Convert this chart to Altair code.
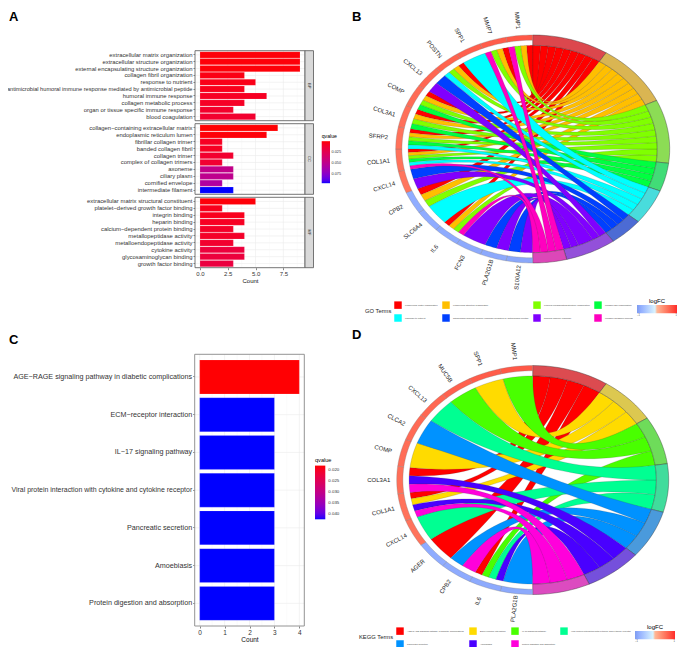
import math
import altair as alt

FONT = "Liberation Sans"

# ---------- panel A data ----------
bp_terms = ["extracellular matrix organization", "extracellular structure organization",
            "external encapsulating structure organization", "collagen fibril organization",
            "response to nutrient", "antimicrobial humoral immune response mediated by antimicrobial peptide",
            "humoral immune response", "collagen metabolic process",
            "organ or tissue specific immune response", "blood coagulation"]
bp_counts = [9, 9, 9, 4, 5, 4, 6, 4, 3, 5]
bp_q = [0.002, 0.002, 0.002, 0.004, 0.005, 0.006, 0.008, 0.009, 0.011, 0.012]
cc_terms = ["collagen\u2212containing extracellular matrix", "endoplasmic reticulum lumen", "fibrillar collagen trimer",
            "banded collagen fibril", "collagen trimer", "complex of collagen trimers", "axoneme", "ciliary plasm",
            "cornified envelope", "intermediate filament"]
cc_counts = [7, 6, 2, 2, 3, 2, 3, 3, 2, 3]
cc_q = [0.001, 0.002, 0.008, 0.008, 0.012, 0.013, 0.048, 0.05, 0.058, 0.0957]
mf_terms = ["extracellular matrix structural constituent", "platelet\u2212derived growth factor binding", "integrin binding",
            "heparin binding", "calcium\u2212dependent protein binding", "metallopeptidase activity",
            "metalloendopeptidase activity", "cytokine activity", "glycosaminoglycan binding", "growth factor binding"]
mf_counts = [5, 2, 4, 4, 3, 4, 3, 4, 4, 3]
mf_q = [0.002, 0.006, 0.006, 0.008, 0.01, 0.01, 0.012, 0.017, 0.017, 0.018]

# ---------- panel C data ----------
kegg_terms = ["AGE\u2212RAGE signaling pathway in diabetic complications", "ECM\u2212receptor interaction",
              "IL\u221217 signaling pathway", "Viral protein interaction with cytokine and cytokine receptor",
              "Pancreatic secretion", "Amoebiasis", "Protein digestion and absorption"]
kegg_counts = [4, 3, 3, 3, 3, 3, 3]
kegg_q = [0.0183, 0.0426, 0.0426, 0.0426, 0.0426, 0.0426, 0.0426]

# ---------- panel B data ----------
go_terms = ["extracellular matrix organization", "extracellular structure organization",
            "external encapsulating structure organization", "collagen fibril organization",
            "response to nutrient", "antimicrobial humoral immune response mediated by antimicrobial peptide",
            "humoral immune response", "collagen metabolic process"]
go_colors = ["#FF0000", "#FFBF00", "#80FF00", "#00FF40", "#00FFFF", "#0040FF", "#8000FF", "#FF00BF"]
go_ring = ["#DC474D", "#DAB552", "#8CDC55", "#41DC77", "#48DCDC", "#4C6BD4", "#9350DA", "#DC47B8"]
go_genes = ["S100A12", "PLA2G1B", "FCN3", "IL6", "SLC6A4", "CPB2", "CXCL14", "COL1A1", "SFRP2", "COL3A1",
            "COMP", "CXCL13", "POSTN", "SPP1", "MMP7", "MMP1"]
go_fc = [-0.88, -0.86, -0.85, -0.84, -0.83, -0.82, 0.5, 0.52, 0.53, 0.55, 0.58, 0.61, 0.64, 0.67, 0.69, 0.72]
go_members = [[6, 5], [6, 5], [6], [7, 2, 1, 0], [4], [2, 1, 0], [6, 5], [7, 4, 3, 2, 1, 0], [4, 3, 2, 1, 0],
              [3, 2, 1, 0], [3, 2, 1, 0], [6, 5], [4, 2, 1, 0], [4], [7, 2, 1, 0], [7, 2, 1, 0]]
go_weight = {("FCN3", 6): 2}

# ---------- panel D data ----------
kegg_names = ["AGE-RAGE signaling pathway in diabetic complications", "ECM-receptor interaction",
              "IL-17 signaling pathway", "Viral protein interaction with cytokine and cytokine receptor",
              "Pancreatic secretion", "Amoebiasis", "Protein digestion and absorption"]
kegg_colors = ["#FF0000", "#FFDB00", "#49FF00", "#00FF92", "#0092FF", "#4900FF", "#FF00DB"]
kegg_ring = ["#DC4B50", "#DCC850", "#6EDC5A", "#40DC9C", "#4A9ADC", "#7550DC", "#DC4BC0"]
kegg_genes = ["PLA2G1B", "IL6", "CPB2", "AGER", "CXCL14", "COL1A1", "COL3A1", "COMP", "CLCA2", "CXCL13",
              "MUC5B", "SPP1", "MMP1"]
kegg_fc = [-0.86, -0.85, -0.84, -0.83, 0.52, 0.53, 0.55, 0.57, 0.59, 0.61, 0.65, 0.69, 0.72]
kegg_members = [[4], [5, 3, 2, 0], [6, 4], [0], [3], [6, 5, 1, 0], [6, 5, 0], [1], [4], [3], [2], [1], [2]]

FC_SCALE = alt.Scale(domain=[-1, 0, 1], range=["#7E9CEE", "#FFFFFF", "#FF2A2A"])
ORIGIN = 8  # page margin: the canvas starts there
WIDTH, HEIGHT = 669, 639
one = alt.Data(values=[{"k": 0}])


def static_rect(x0, x1, y0, y1, **mark):
    return alt.Chart(one).mark_rect(**mark).encode(
        x=alt.value(x0), x2=alt.value(x1), y=alt.value(y0), y2=alt.value(y1))


def static_text(label, x, y, **mark):
    return alt.Chart(alt.Data(values=[{"t": label}])).mark_text(**mark).encode(
        x=alt.value(x), y=alt.value(y), text="t:N")


def bar_panel(cats, counts, qs, color_scale, legend, px, py, dom, majors, minors, label_size, long_size,
              ticks_bottom=False, tick_size=6, tick_format=".1f", border="#666666", strip=None):
    x0, x1 = px[0] - ORIGIN, px[1] - ORIGIN
    y0, y1 = py[0] - ORIGIN, py[1] - ORIGIN
    rows = [{"term": c, "count": n, "q": q} for c, n, q in zip(cats, counts, qs)]
    xscale = alt.Scale(domain=dom, range=[x0, x1], nice=False, zero=False)
    yscale = alt.Scale(domain=cats, range=[y0, y1], paddingInner=0.1, paddingOuter=0.15)
    axis_x = alt.Axis(orient="bottom", offset=y1 - HEIGHT, values=majors, grid=False, domain=False, tickSize=2,
                      tickColor="#333333", tickWidth=0.6, labelFontSize=tick_size, labelColor="#333333", labelPadding=1,
                      labelFlush=False, title="Count", titleFontSize=tick_size, titleFontWeight="normal",
                      titleColor="#111111", titlePadding=1, format=tick_format) if ticks_bottom else None
    axis_y = alt.Axis(orient="left", offset=-x0, grid=False, domain=False, tickSize=2, tickColor="#333333",
                      tickWidth=0.6, labelFontSize=alt.expr("length(datum.label) > 56 ? %s : %s" % (long_size, label_size)),
                      labelColor="#333333", labelPadding=1, labelLimit=400, labelOverlap=False, title=None)
    X = alt.X("count:Q", scale=xscale, axis=axis_x)
    Y = alt.Y("term:N", sort=cats, scale=yscale, axis=axis_y)
    bg = static_rect(x0, x1, y0, y1, fill="white")
    g_h = alt.Chart(alt.Data(values=rows)).mark_rule(color="#EBEBEB", strokeWidth=0.6).encode(
        y=Y, x=alt.value(x0), x2=alt.value(x1))
    g_v = alt.Chart(alt.Data(values=[{"count": v} for v in majors])).mark_rule(color="#EBEBEB", strokeWidth=0.6).encode(
        x=X, y=alt.value(y0), y2=alt.value(y1))
    g_m = alt.Chart(alt.Data(values=[{"count": v} for v in minors])).mark_rule(color="#F2F2F2", strokeWidth=0.35).encode(
        x=X, y=alt.value(y0), y2=alt.value(y1))
    bars = alt.Chart(alt.Data(values=rows)).mark_bar(stroke="#FFFFFF", strokeOpacity=0.35, strokeWidth=0.4).encode(
        x=X, y=Y, color=alt.Color("q:Q", scale=color_scale, legend=legend))
    box = static_rect(x0, x1, y0, y1, fill="transparent", stroke=border, strokeWidth=0.9)
    parts = [bg, g_h, g_m, g_v, bars, box]
    if strip:
        s0 = x1
        s1 = x1 + 8.5
        parts.append(static_rect(s0, s1, y0, y1, fill="#D9D9D9", stroke=border, strokeWidth=0.9))
        parts.append(static_text(strip, (s0 + s1) / 2, (y0 + y1) / 2, angle=90, fontSize=4, color="#333333",
                                 align="center", baseline="middle", font=FONT))
    return alt.layer(*parts)


def gene_pt(r, t):
    return -r * math.sin(t), -r * math.cos(t)


def term_pt(r, s):
    return r * math.sin(s), r * math.cos(s)


def chord_panel(genes, fcs, members, terms, colors, ring, weights, cx, cy, rx, ry, title, legend_pos, fc_pos,
                columns_pad, legend_font):
    nt = len(terms)
    per_term = [[] for _ in terms]
    for i, mem in reversed(list(enumerate(members))):
        for j in mem:
            per_term[j].append(i)
    widths = [sum(weights.get((genes[i], j), 1) for i in per_term[j]) for j in range(nt)]
    du = math.pi / sum(widths)
    dg = math.pi / len(genes)

    term_start = []
    s = 0.0
    for w in widths:
        term_start.append(s)
        s += w * du

    slots = {}
    for j in range(nt):
        s = term_start[j]
        for i in per_term[j]:
            w = weights.get((genes[i], j), 1) * du
            slots[(i, j)] = (s, s + w)
            s += w

    rib_rows = []
    rid = 0
    bez = [k / 28 for k in range(29)]
    arcsteps = [k / 6 for k in range(7)]
    ribbons = []
    for i, mem in enumerate(members):
        gw = dg / len(mem)
        for k, j in enumerate(mem):
            ribbons.append((j, i, i * dg + k * gw, i * dg + (k + 1) * gw))
    ribbons.sort(key=lambda r: r[0])
    for j, i, t0, t1 in ribbons:
        s0, s1 = slots[(i, j)]
        pts = []
        ax, ay = gene_pt(1, t1)
        bx, by = term_pt(1, s0)
        for u in bez:
            pts.append(((1 - u) ** 2 * ax + u ** 2 * bx, (1 - u) ** 2 * ay + u ** 2 * by))
        for a in arcsteps:
            pts.append(term_pt(1, s0 + (s1 - s0) * a))
        ax, ay = term_pt(1, s1)
        bx, by = gene_pt(1, t0)
        for u in bez:
            pts.append(((1 - u) ** 2 * ax + u ** 2 * bx, (1 - u) ** 2 * ay + u ** 2 * by))
        for a in arcsteps:
            pts.append(gene_pt(1, t0 + (t1 - t0) * a))
        for n, (px_, py_) in enumerate(pts):
            rib_rows.append({"x": round(px_, 4), "y": round(py_, 4), "id": rid, "o": n, "term": terms[j]})
        rid += 1

    ring_rows = []
    for j in range(nt):
        a = term_start[j]
        b = a + widths[j] * du
        n_a = 12
        seq = [term_pt(1.1, a + (b - a) * k / n_a) for k in range(n_a + 1)] + \
              [term_pt(1.0, b - (b - a) * k / n_a) for k in range(n_a + 1)]
        seq.append(seq[0])
        for n, (px_, py_) in enumerate(seq):
            ring_rows.append({"x": round(px_, 4), "y": round(py_, 4), "id": j, "o": n, "term": terms[j]})

    gene_rows = []
    label_rows = []
    for i, g in enumerate(genes):
        a = i * dg
        b = a + dg
        seq = [gene_pt(1.1, a + dg * k / 8) for k in range(9)] + [gene_pt(1.05, b - dg * k / 8) for k in range(9)]
        seq.append(seq[0])
        for n, (px_, py_) in enumerate(seq):
            gene_rows.append({"x": round(px_, 4), "y": round(py_, 4), "id": i, "o": n, "logFC": fcs[i]})
        mid = a + dg / 2
        lx, ly = gene_pt(1.245, mid)
        label_rows.append({"x": round(lx, 4), "y": round(ly, 4), "gene": g, "ang": round(math.degrees(mid) - 90, 2)})

    xs = alt.Scale(domain=[-1.1, 1.1], range=[cx - rx - ORIGIN, cx + rx - ORIGIN], nice=False, zero=False)
    ys = alt.Scale(domain=[-1.1, 1.1], range=[cy + ry - ORIGIN, cy - ry - ORIGIN], nice=False, zero=False)
    X = alt.X("x:Q", scale=xs, axis=None)
    Y = alt.Y("y:Q", scale=ys, axis=None)
    term_leg = alt.Legend(orient="none", legendX=legend_pos[0] - ORIGIN, legendY=legend_pos[1] - ORIGIN, title=title,
                          titleOrient="left", columns=4, direction="horizontal", symbolType="square", symbolSize=56,
                          symbolStrokeWidth=0, labelFontSize=legend_font, labelLimit=200, titleFontSize=5.8,
                          titleFontWeight="normal", titlePadding=2, columnPadding=columns_pad, rowPadding=5,
                          labelOffset=3, labelColor="#444444", titleColor="#222222", titleBaseline="middle",
                          titleAnchor="middle", padding=0)
    ribbons_l = alt.Chart(alt.Data(values=rib_rows)).mark_line(stroke="#333333", strokeWidth=0.25, strokeOpacity=0.7).encode(
        x=X, y=Y, order="o:Q", detail="id:N",
        fill=alt.Fill("term:N", sort=terms, scale=alt.Scale(domain=terms, range=colors), legend=term_leg))
    rings = alt.Chart(alt.Data(values=ring_rows)).mark_line(stroke="#333333", strokeWidth=0.4).encode(
        x=X, y=Y, order="o:Q", detail="id:N",
        fill=alt.Fill("term:N", sort=terms, scale=alt.Scale(domain=terms, range=ring), legend=None))
    fc_leg = alt.Legend(orient="none", legendX=fc_pos[0] - ORIGIN, legendY=fc_pos[1] - ORIGIN, title="logFC",
                        gradientLength=40, gradientThickness=8.3, direction="horizontal", values=[-1, 1], format="d",
                        labelFontSize=2.6, titleFontSize=6, titleFontWeight="normal", titleAnchor="middle",
                        gradientStrokeWidth=0, titlePadding=1, labelOffset=1, labelColor="#444444", padding=0)
    gene_l = alt.Chart(alt.Data(values=gene_rows)).mark_line(stroke="#777777", strokeWidth=0.3).encode(
        x=X, y=Y, order="o:Q", detail="id:N",
        fill=alt.Fill("logFC:Q", scale=FC_SCALE, legend=fc_leg))
    text = alt.Chart(alt.Data(values=label_rows)).mark_text(fontSize=6, color="#222222", font=FONT, align="center",
                                                             baseline="middle").encode(
        x=X, y=Y, text="gene:N", angle=alt.Angle("ang:Q", scale=None))
    return alt.layer(ribbons_l, rings, gene_l, text).resolve_scale(fill="independent")


# --- A ---
q_scale_a = alt.Scale(domain=[0.0957, 0.0007], range=["#0000FF", "#FF0000"], interpolate="lab")
legend_a = alt.Legend(orient="none", legendX=321.7 - ORIGIN, legendY=134 - ORIGIN, title="qvalue", gradientLength=42,
                      gradientThickness=8.3, values=[0.025, 0.05, 0.075], format=".3f", labelFontSize=3.8,
                      titleFontSize=5.2, titleFontWeight="normal", gradientStrokeWidth=0, titlePadding=2, labelOffset=1.5,
                      labelColor="#333333", padding=0)
majors_a, minors_a = [0, 2.5, 5, 7.5], [1.25, 3.75, 6.25, 8.75]
panel_a1 = bar_panel(bp_terms, bp_counts, bp_q, q_scale_a, legend_a, (195, 305), (50.7, 120.7), [-0.45, 9.45], majors_a, minors_a, 5.9, 5.65, strip="BP")
panel_a2 = bar_panel(cc_terms, cc_counts, cc_q, q_scale_a, None, (195, 305), (123.7, 194.3), [-0.45, 9.45], majors_a, minors_a, 5.9, 5.65, strip="CC")
panel_a3 = bar_panel(mf_terms, mf_counts, mf_q, q_scale_a, None, (195, 305), (197.3, 267.7), [-0.45, 9.45], majors_a, minors_a, 5.9, 5.65, ticks_bottom=True, strip="MF")

# --- C ---
q_scale_c = alt.Scale(domain=[0.0426, 0.0182], range=["#0000FF", "#FF0000"], interpolate="lab")
legend_c = alt.Legend(orient="none", legendX=315 - ORIGIN, legendY=458 - ORIGIN, title="qvalue", gradientLength=53.7,
                      gradientThickness=10.3, values=[0.02, 0.025, 0.03, 0.035, 0.04], format=".3f", labelFontSize=4.4,
                      titleFontSize=5.6, titleFontWeight="normal", gradientStrokeWidth=0, titlePadding=2, labelOffset=3,
                      labelColor="#333333", padding=0)
panel_c = bar_panel(kegg_terms, kegg_counts, kegg_q, q_scale_c, legend_c, (194.7, 304.3), (354.3, 626), [-0.2, 4.2],
                    [0, 1, 2, 3, 4], [0.5, 1.5, 2.5, 3.5], 7.2, 6.95, ticks_bottom=True, tick_size=6.5, tick_format="d", border="#888888")

# --- B, D ---
panel_b = chord_panel(go_genes, go_fc, go_members, go_terms, go_colors, go_ring, go_weight, 532.7, 149, 137, 114,
                      "GO Terms", (365, 301), (637, 298), 4, 2.3)
panel_d = chord_panel(kegg_genes, kegg_fc, kegg_members, kegg_names, kegg_colors, kegg_ring, {}, 532.7, 480, 136, 114.5,
                      "KEGG Terms", (359, 627), (635, 624), 5, 2.3)

letters = [static_text(l, x, y, fontSize=13, fontWeight="bold", font=FONT, color="#000000", align="left", baseline="alphabetic")
           for l, x, y in [("A", 1, 13), ("B", 344, 13), ("C", 1, 336), ("D", 344, 331)]]

chart = alt.layer(panel_a1, panel_a2, panel_a3, panel_c, panel_b, panel_d, *letters).resolve_scale(
    x="independent", y="independent", color="independent", fill="independent"
).properties(width=WIDTH, height=HEIGHT, padding=0, autosize=alt.AutoSizeParams(type="none", contains="padding")
).configure_view(stroke=None).configure_axis(labelFont=FONT, titleFont=FONT).configure_legend(labelFont=FONT, titleFont=FONT)

chart.save("out.html", embed_options={"renderer": "svg", "actions": False})
